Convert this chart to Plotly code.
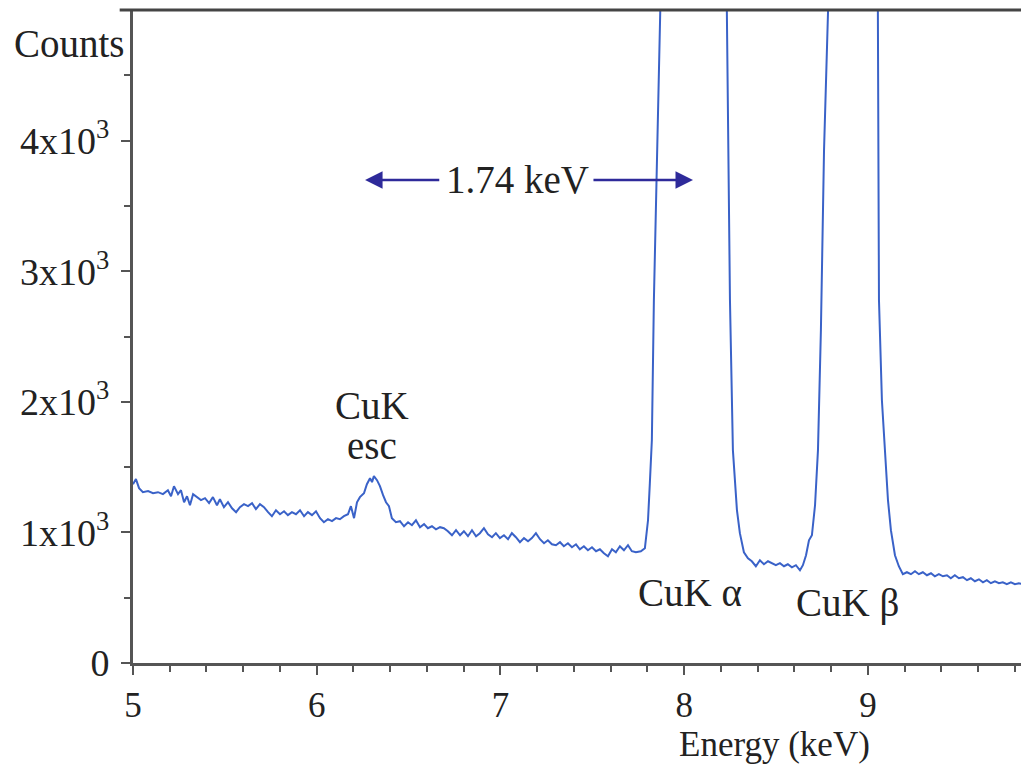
import plotly.graph_objects as go

energy_kev = [
    5.000, 5.016, 5.033, 5.054, 5.082, 5.109, 5.136, 5.163, 5.190, 5.207,
    5.223, 5.245, 5.261, 5.278, 5.294, 5.310, 5.327, 5.348, 5.370, 5.392,
    5.414, 5.435, 5.457, 5.473, 5.495, 5.517, 5.539, 5.561, 5.582, 5.604,
    5.626, 5.648, 5.669, 5.691, 5.713, 5.735, 5.756, 5.778, 5.800, 5.822,
    5.843, 5.865, 5.887, 5.909, 5.931, 5.952, 5.974, 5.996, 6.018, 6.039,
    6.061, 6.083, 6.105, 6.126, 6.148, 6.170, 6.186, 6.203, 6.219, 6.235,
    6.257, 6.273, 6.290, 6.301, 6.311, 6.328, 6.344, 6.361, 6.377, 6.393,
    6.409, 6.431, 6.453, 6.475, 6.497, 6.518, 6.540, 6.562, 6.584, 6.605,
    6.627, 6.649, 6.671, 6.692, 6.714, 6.736, 6.758, 6.780, 6.801, 6.823,
    6.845, 6.867, 6.888, 6.910, 6.932, 6.954, 6.975, 6.997, 7.019, 7.041,
    7.062, 7.084, 7.106, 7.128, 7.150, 7.171, 7.193, 7.215, 7.237, 7.258,
    7.280, 7.302, 7.324, 7.345, 7.367, 7.389, 7.411, 7.432, 7.454, 7.476,
    7.498, 7.520, 7.541, 7.563, 7.585, 7.607, 7.628, 7.650, 7.672, 7.694,
    7.715, 7.737, 7.764, 7.786,
    7.803, 7.813, 7.824, 7.835, 7.846, 7.857, 7.895, 8.042, 8.194, 8.232,
    8.249, 8.265, 8.287, 8.303, 8.325, 8.347, 8.368, 8.390, 8.412, 8.434,
    8.456, 8.477, 8.499, 8.521, 8.543, 8.564, 8.586, 8.608, 8.630, 8.646,
    8.663, 8.679, 8.695, 8.712, 8.728, 8.744, 8.761, 8.783, 8.820, 8.918,
    9.022, 9.054, 9.060, 9.076, 9.093, 9.109, 9.125, 9.147, 9.168, 9.190,
    9.212, 9.234, 9.256, 9.277, 9.299, 9.321, 9.343, 9.364, 9.386, 9.408,
    9.430, 9.451, 9.473, 9.495, 9.517, 9.539, 9.560, 9.582, 9.604, 9.626,
    9.647, 9.669, 9.691, 9.713, 9.734, 9.756, 9.778, 9.800, 9.821, 9.843,
]

counts = [
    1369, 1408, 1339, 1308, 1316, 1300, 1308, 1293, 1323, 1277,
    1354, 1293, 1323, 1231, 1277, 1208, 1293, 1270, 1247, 1262,
    1224, 1270, 1208, 1254, 1193, 1231, 1185, 1155, 1193, 1216,
    1201, 1224, 1178, 1216, 1193, 1155, 1124, 1170, 1139, 1162,
    1132, 1155, 1139, 1170, 1124, 1155, 1132, 1162, 1109, 1078,
    1101, 1086, 1109, 1101, 1124, 1139, 1201, 1109, 1231, 1270,
    1300, 1369, 1415, 1385, 1431, 1400, 1354, 1285, 1231, 1201,
    1109, 1078, 1086, 1047, 1078, 1055, 1093, 1040, 1063, 1032,
    1047, 1024, 1040, 1032, 1009, 978, 1017, 978, 1009, 971,
    1017, 971, 994, 1032, 986, 963, 994, 956, 978, 948,
    994, 963, 925, 956, 932, 956, 994, 948, 917, 940,
    909, 902, 925, 894, 917, 886, 909, 871, 894, 863,
    886, 856, 871, 840, 817, 871, 848, 894, 863, 902,
    856, 848, 856, 879,
    1093, 1377, 1707, 2779, 3928, 5001, 9000, 16000, 9000, 5001,
    2779, 1630, 1170, 994, 848, 802, 779, 741, 787, 756,
    779, 764, 749, 764, 741, 756, 733, 749, 710, 749,
    825, 940, 978, 1208, 1630, 2549, 3928, 5001, 8000, 11000,
    8000, 5001, 2779, 2012, 1630, 1247, 1017, 825, 741, 680,
    695, 680, 703, 680, 695, 672, 687, 664, 680, 664,
    672, 649, 672, 649, 657, 634, 649, 626, 641, 618,
    634, 611, 626, 611, 618, 603, 618, 603, 611, 603,
]

y_tick_vals = [0, 1000, 2000, 3000, 4000]
y_tick_text = ["0", "1x10<sup>3</sup>", "2x10<sup>3</sup>", "3x10<sup>3</sup>", "4x10<sup>3</sup>"]
x_tick_vals = [5, 6, 7, 8, 9]
x_tick_text = ["5", "6", "7", "8", "9"]

FONT = "Liberation Serif, Times New Roman, serif"
TXT = "#222222"
AXC = "#555555"
ARROW = "#2e2a9a"

fig = go.Figure()
fig.add_trace(go.Scatter(
    x=energy_kev, y=counts, mode="lines",
    line=dict(color="#3a62c8", width=2),
    hoverinfo="skip", showlegend=False,
))

fig.update_layout(
    width=1021, height=765,
    margin=dict(l=133, r=0, t=10, b=102),
    paper_bgcolor="white", plot_bgcolor="white",
    font=dict(family=FONT, size=38, color=TXT),
    showlegend=False,
    xaxis=dict(
        range=[5, 9.833], showgrid=False, zeroline=False,
        showline=True, linecolor=AXC, linewidth=3, mirror=False,
        ticks="outside", ticklen=9, tickwidth=2, tickcolor=AXC,
        tickvals=x_tick_vals, ticktext=x_tick_text,
        tickfont=dict(family=FONT, size=35, color=TXT),
        ticklabelstandoff=0,
        minor=dict(dtick=0.2, ticks="outside", ticklen=6, tickwidth=2, tickcolor=AXC),
    ),
    yaxis=dict(
        range=[0, 5000], showgrid=False, zeroline=False,
        showline=True, linecolor=AXC, linewidth=3,
        ticks="outside", ticklen=9, tickwidth=2, tickcolor=AXC,
        tickvals=y_tick_vals, ticktext=y_tick_text,
        tickfont=dict(family=FONT, size=38, color=TXT),
        ticklabelstandoff=4,
        minor=dict(dtick=500, ticks="outside", ticklen=6, tickwidth=2, tickcolor=AXC),
    ),
)

# top frame line
fig.add_shape(type="line", xref="paper", yref="paper", x0=-0.015, x1=1, y0=1, y1=1,
              line=dict(color="#444444", width=3))

ann_font = dict(family=FONT, size=39, color=TXT)
fig.add_annotation(text="Counts", xref="paper", yref="paper", x=-0.0068, y=0.948,
                   xanchor="right", yanchor="middle", showarrow=False, font=ann_font)
fig.add_annotation(text="Energy (keV)", xref="x", yref="paper", x=8.494, y=-0.1562,
                   xanchor="center", yanchor="bottom", showarrow=False, borderpad=0,
                   font=dict(family=FONT, size=35, color=TXT))
fig.add_annotation(text="CuK", x=6.30, y=1975, showarrow=False, font=ann_font)
fig.add_annotation(text="esc", x=6.30, y=1668, showarrow=False, font=ann_font)
fig.add_annotation(text="CuK α", x=8.031, y=542, showarrow=False, font=ann_font)
fig.add_annotation(text="CuK β", x=8.886, y=457, showarrow=False, font=ann_font)
fig.add_annotation(text="1.74 keV", x=7.090, y=3699, showarrow=False, font=ann_font)

# double-headed arrow split around the label
fig.add_annotation(x=6.263, y=3699, ax=6.675, ay=3699, axref="x", ayref="y",
                   text="", showarrow=True, arrowhead=2, arrowsize=1.4,
                   arrowwidth=2.5, arrowcolor=ARROW)
fig.add_annotation(x=8.048, y=3699, ax=7.498, ay=3699, axref="x", ayref="y",
                   text="", showarrow=True, arrowhead=2, arrowsize=1.4,
                   arrowwidth=2.5, arrowcolor=ARROW)

fig.write_html("out.html")
